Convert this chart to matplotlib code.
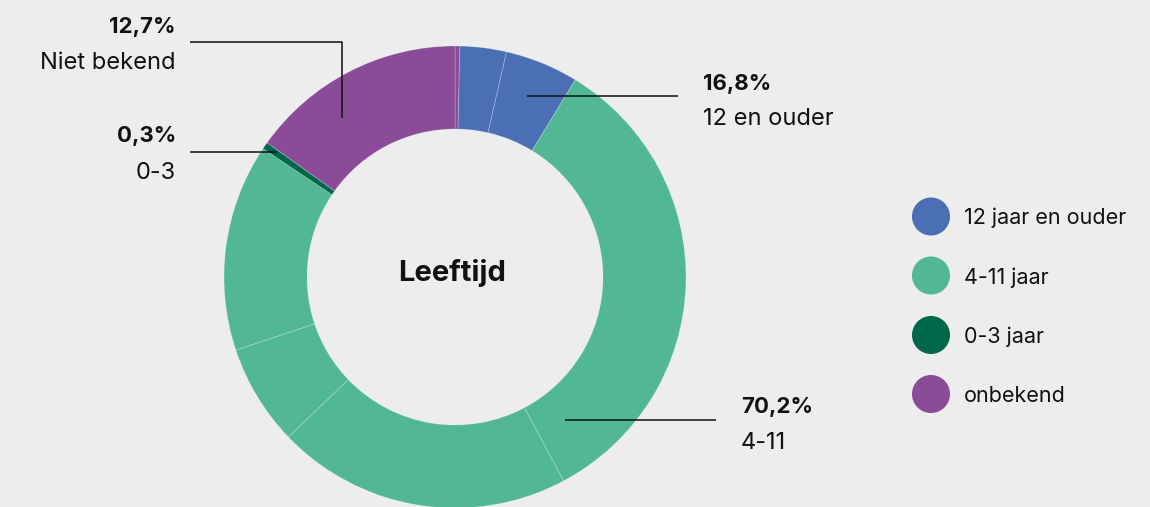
import matplotlib
matplotlib.use("Agg")
import matplotlib.pyplot as plt

plt.rcParams['font.family'] = ['Inter', 'DejaVu Sans']

# Categorieën en labels
categories = ["12 jaar en ouder", "4-11 jaar", "0-3 jaar", "onbekend"]
colors = ["#4a6fb5", "#52b894", "#00684a", "#8a4c98"]
pct_labels = ["16,8%", "70,2%", "0,3%", "12,7%"]
short_labels = ["12 en ouder", "4-11", "0-3", "Niet bekend"]

# Deel-segmenten van de ring (% van de cirkel)
slice_vals = [0.33, 3.25, 5.14, 33.5, 20.6, 7.06, 14.5, 0.5, 15.12]
slice_cat = [3, 0, 0, 1, 1, 1, 1, 2, 3]

BG = "#ededed"
W, H = 1150, 507
cx, cy = 455, H - 277
r_out, r_in = 231, 148

fig = plt.figure(figsize=(W / 100, H / 100), dpi=100, facecolor=BG)
ax = fig.add_axes([0, 0, 1, 1])
ax.set_facecolor(BG)

ax.pie(slice_vals, colors=[colors[c] for c in slice_cat],
       startangle=90, counterclock=False, center=(cx, cy), radius=r_out,
       wedgeprops=dict(width=r_out - r_in, edgecolor=(1, 1, 1, 0.25), linewidth=0.6))

ax.set_xlim(0, W)
ax.set_ylim(0, H)
ax.set_aspect('auto')
ax.axis('off')

ax.text(cx - 3, H - 273, "Leeftijd", ha='center', va='center',
        fontsize=21, fontweight='bold', color='#111111')

# leader lines (x-lijst, y-lijst in pixels van boven)
leaders = [
    ([527, 678], [96, 96]),          # 12 en ouder
    ([565, 716], [420, 420]),        # 4-11
    ([190, 277], [152, 152]),        # 0-3
    ([190, 342, 342], [42, 42, 118]),  # onbekend
]
for xs, ys in leaders:
    ax.plot(xs, [H - y for y in ys], color='#111111', lw=1.1, solid_capstyle='butt')

# label posities: (x, baseline pct, baseline naam, uitlijning)
label_pos = [
    (703, 90, 125, 'left'),
    (741, 413, 449, 'left'),
    (176, 142, 179, 'right'),
    (176, 33, 69, 'right'),
]
for i, (x, y1, y2, ha) in enumerate(label_pos):
    ax.text(x, H - y1, pct_labels[i], ha=ha, va='baseline', fontsize=16,
            fontweight='bold', color='#111111')
    ax.text(x, H - y2, short_labels[i], ha=ha, va='baseline', fontsize=17,
            color='#111111')

# legenda
leg_y = [216.5, 275.5, 335, 394]
ax.scatter([931] * 4, [H - y for y in leg_y], s=750, c=colors, linewidths=0)
for i, cat in enumerate(categories):
    ax.text(964, H - leg_y[i] - 8, cat, ha='left', va='baseline',
            fontsize=15.5, color='#111111')

fig.savefig("out.png", dpi=100, facecolor=BG)
